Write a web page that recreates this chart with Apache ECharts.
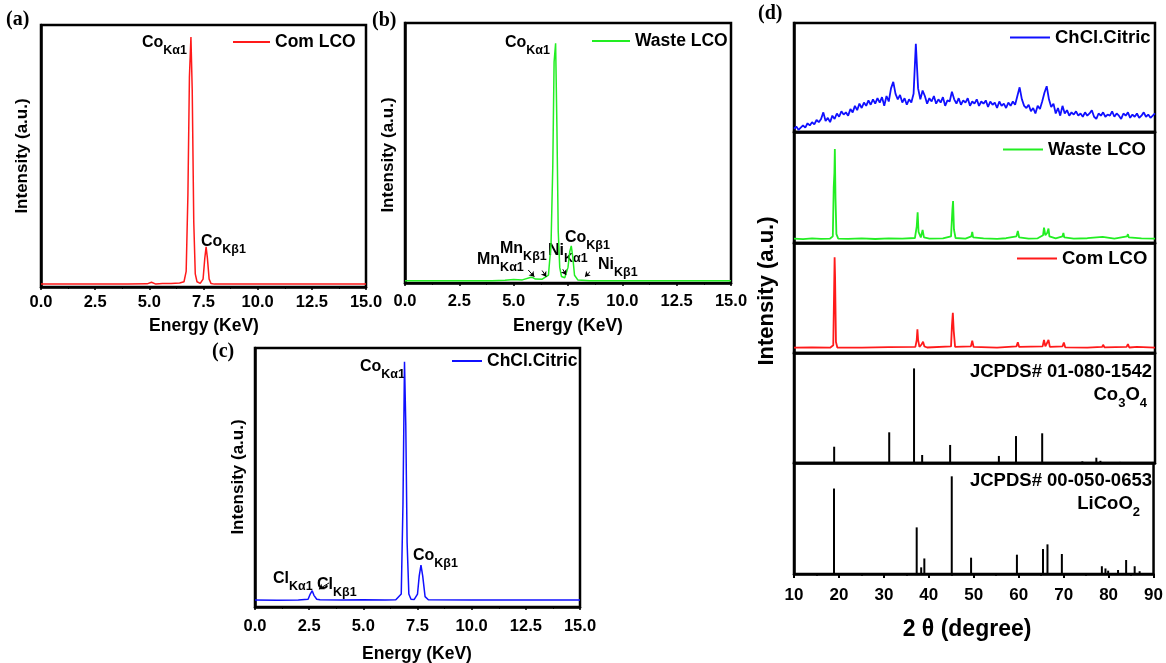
<!DOCTYPE html>
<html>
<head>
<meta charset="utf-8">
<script src="https://cdn.jsdelivr.net/npm/echarts@6/dist/echarts.min.js"></script>
<style>
html, body { margin: 0; padding: 0; background: #fff; }
#chart { width: 1166px; height: 663px; }
</style>
</head>
<body>
<div id="chart"></div>
<script>
// EDS spectra (energy keV, intensity a.u. scaled 0-100)
const edsComX = [0, 2, 4, 4.9, 5.1, 5.3, 5.6, 6.0, 6.4, 6.6, 6.7, 6.78, 6.85, 6.92, 6.98, 7.05, 7.12, 7.2, 7.35, 7.48, 7.56, 7.62, 7.68, 7.76, 7.85, 8.0, 10, 12, 15]
const edsComY = [1.1, 1.1, 1.1, 1.2, 1.8, 1.1, 1.3, 1.3, 1.5, 2.0, 6, 35, 80, 95.4, 75, 25, 5, 2, 1.4, 3, 11, 15.3, 11, 3, 1.3, 1.1, 1.1, 1.1, 1.1]

const edsWasteX = [0, 2, 4, 4.6, 5.0, 5.4, 5.8, 5.9, 6.0, 6.3, 6.6, 6.72, 6.8, 6.86, 6.93, 6.99, 7.05, 7.12, 7.2, 7.35, 7.5, 7.58, 7.65, 7.72, 7.8, 7.95, 8.5, 10, 12, 15]
const edsWasteY = [0.9, 0.9, 0.9, 1.1, 1.3, 1.2, 2.2, 2.0, 1.5, 1.4, 3, 15, 45, 85, 92.2, 60, 20, 6, 2.5, 2, 6, 12, 14.3, 10, 3, 1.2, 0.9, 0.9, 0.9, 0.9]

const edsChclX = [0, 1, 2, 2.45, 2.55, 2.64, 2.72, 2.85, 3.0, 4, 5, 6, 6.5, 6.75, 6.83, 6.9, 6.96, 7.02, 7.1, 7.2, 7.35, 7.5, 7.58, 7.66, 7.74, 7.85, 8.0, 10, 12, 15]
const edsChclY = [2.7, 2.6, 2.7, 3.0, 5, 6.3, 4.5, 3.0, 2.8, 2.7, 2.8, 2.7, 2.8, 5, 40, 94.7, 70, 25, 5, 3, 2.9, 5, 12, 16.2, 12, 4, 2.8, 2.7, 2.7, 2.7]

// XRD ChCl.Citric pattern, sampled every 0.5 deg from 10 to 90
const xrdChclStart = 10
const xrdChclStep = 0.5
const xrdChclY = [
  3, 5, 2, 4, 6, 4, 8, 6, 9, 7,
  11, 9, 12, 18, 10, 13, 9, 15, 12, 17,
  14, 19, 16, 18, 15, 21, 18, 24, 20, 26,
  22, 27, 24, 29, 25, 30, 26, 31, 27, 32,
  24, 33, 28, 40, 46, 35, 30, 34, 27, 31,
  25, 30, 27, 35, 81, 40, 30, 38, 33, 26,
  31, 28, 33, 26, 30, 27, 32, 24, 29, 28,
  37, 30, 26, 31, 25, 29, 27, 31, 24, 28,
  26, 30, 24, 28, 26, 29, 23, 28, 25, 27,
  22, 28, 24, 26, 22, 27, 24, 28, 25, 33,
  41, 30, 24, 22, 25, 19, 22, 17, 24, 21,
  28, 36, 42, 30, 23, 26, 17, 22, 15, 24,
  17, 20, 15, 18, 16, 19, 15, 17, 14, 18,
  15, 17, 20, 14, 12, 17, 15, 18, 14, 16,
  15, 19, 14, 17, 15, 12, 17, 15, 18, 13,
  16, 14, 17, 13, 15, 18, 14, 16, 13, 15,
  17
]

const xrdWaste = [[10,4],[12,3.5],[14,4.2],[16,3.8],[18,4],[18.6,6],[18.8,50],[18.95,63],[19.05,84.7],[19.2,40],[19.4,8],[19.8,4],[22,3.8],[25,4.2],[28,3.6],[31,4.1],[34,3.9],[36.8,4.5],[37.2,15],[37.4,27.6],[37.6,10],[38.1,5],[38.5,11.7],[38.8,5],[40,4],[43,4.2],[44.8,6],[45.1,30],[45.25,37.8],[45.45,12],[45.8,4.5],[48,4],[49.3,6],[49.5,10],[49.7,5],[52,4.1],[55,3.8],[57,4.3],[59.3,6],[59.6,10.8],[59.9,5],[62,4],[64,4.2],[65.2,7],[65.4,13.8],[65.7,7],[66.1,9],[66.4,13],[66.6,6],[68,4.2],[69.5,6],[69.7,9],[69.9,5],[72,4],[75,4.3],[78.4,5.5],[78.6,7.3],[78.8,5],[81,4],[83.8,6],[84,8],[84.2,5],[87,4.2],[90,4]]

const xrdCom = [[10,4.8],[14,5],[18,4.8],[18.7,7],[18.9,60],[19.0,87],[19.1,70],[19.3,10],[19.6,5],[25,4.8],[31,5.3],[31.2,4.9],[36.9,5.5],[37.2,12],[37.35,21.5],[37.5,12],[37.8,5.5],[38.3,8],[38.6,10.3],[38.9,6],[39.5,5],[44.8,6],[45.0,25],[45.2,36.6],[45.4,20],[45.7,5.5],[49.2,6],[49.5,11.2],[49.8,5.5],[55,4.8],[59.3,6],[59.6,9.7],[59.9,5.5],[65.1,6],[65.4,11.8],[65.7,6],[66.1,7],[66.4,11.8],[66.7,5.5],[69.5,6],[69.8,9.5],[70.1,5.2],[75,4.8],[78.3,5.5],[78.5,7.5],[78.8,5.2],[83.7,5.5],[84,8],[84.3,5],[86,5.5],[90,4.8]]

// reference stick patterns
const co3o4Pos = [18.9, 31.1, 36.6, 38.4, 44.6, 55.4, 59.2, 65.0, 73.9, 77.0, 77.9, 82.3]
const co3o4Int = [14.8, 27.9, 86, 7.3, 16.4, 6.4, 24.5, 27, 1.5, 4.8, 2, 1]
const licoo2Pos = [18.9, 37.3, 38.3, 39.0, 45.1, 49.4, 59.6, 65.4, 66.4, 69.6, 78.5, 79.3, 79.9, 82.1, 83.9, 85.8, 86.9]
const licoo2Int = [77, 42, 6, 14, 88, 14.7, 17.4, 22.5, 26.7, 18, 7, 5, 3, 3.6, 12.6, 7, 2.5]

const RED = '#ff1a1a'
const GREEN = '#22ee22'
const BLUE = '#1010ff'
const FONT = 'Liberation Sans, Arial, sans-serif'

const zip = (xs, ys) => xs.map((x, i) => [x, ys[i]])

const chart = echarts.init(document.getElementById('chart'), null, { renderer: 'canvas' })

const grids = [
  { left: 41, top: 25, width: 325, height: 262 },
  { left: 405, top: 23, width: 326, height: 260 },
  { left: 255, top: 348, width: 325, height: 259 },
  { left: 794, top: 23, width: 361, height: 109 },
  { left: 794, top: 132, width: 361, height: 111 },
  { left: 794, top: 243, width: 361, height: 110 },
  { left: 794, top: 353, width: 361, height: 110 },
  { left: 794, top: 463, width: 361, height: 111 }
].map(g => Object.assign({ show: true, borderColor: '#000', borderWidth: 2.5, backgroundColor: 'transparent' }, g))

function energyAxis(i, margin) {
  return {
    type: 'value', gridIndex: i, min: 0, max: 15, interval: 2.5,
    axisLine: { onZero: false, lineStyle: { color: '#000', width: 2.5 } },
    axisTick: { length: 3, lineStyle: { color: '#000', width: 1.5 } },
    minorTick: { show: true, splitNumber: 2, length: 2, lineStyle: { color: '#000' } },
    splitLine: { show: false },
    axisLabel: { color: '#000', fontSize: 16.5, fontWeight: 'bold', fontFamily: FONT, margin: margin,
      formatter: v => v.toFixed(1) }
  }
}
function thetaAxis(i, bottom) {
  return {
    type: 'value', gridIndex: i, min: 10, max: 90, interval: 10,
    axisLine: { onZero: false, lineStyle: { color: '#000', width: 2.5 } },
    axisTick: { show: bottom, length: 4, lineStyle: { color: '#000', width: 2 } },
    minorTick: { show: bottom, splitNumber: 2, length: 2, lineStyle: { color: '#000', width: 1.5 } },
    splitLine: { show: false },
    axisLabel: { show: bottom, color: '#000', fontSize: 17, fontWeight: 'bold', fontFamily: FONT, margin: 13 }
  }
}
function intensityAxis(i) {
  return {
    type: 'value', gridIndex: i, min: 0, max: 100,
    axisLine: { show: true, onZero: false, lineStyle: { color: '#000', width: 2.5 } },
    axisTick: { show: false }, axisLabel: { show: false }, splitLine: { show: false }
  }
}

const xAxes = [energyAxis(0, 7), energyAxis(1, 10), energyAxis(2, 11),
  thetaAxis(3, false), thetaAxis(4, false), thetaAxis(5, false), thetaAxis(6, false), thetaAxis(7, true)]
const yAxes = grids.map((g, i) => intensityAxis(i))

function lineSeries(name, idx, data, color, width) {
  return {
    name: name, type: 'line', xAxisIndex: idx, yAxisIndex: idx, data: data,
    showSymbol: false, symbol: 'none', smooth: false, clip: true,
    lineStyle: { color: color, width: width }, itemStyle: { color: color }, animation: false
  }
}
function arrows(list) {
  return {
    silent: true, animation: false, symbol: ['none', 'arrow'], symbolSize: 5,
    lineStyle: { color: '#000', width: 1, type: 'solid' }, label: { show: false },
    data: list.map(a => [{ coord: a[0] }, { coord: a[1] }])
  }
}
function sticks(name, idx, pos, ints) {
  return {
    name: name, type: 'bar', xAxisIndex: idx, yAxisIndex: idx, data: zip(pos, ints),
    barWidth: 2, itemStyle: { color: '#000' }, animation: false
  }
}

const sWaste = lineSeries('Waste LCO', 1, zip(edsWasteX, edsWasteY), GREEN, 1.5)
sWaste.markLine = arrows([
  [[5.67, 5.0], [5.95, 2.4]], [[6.31, 4.8], [6.5, 2.4]],
  [[7.26, 5.3], [7.41, 3.1]], [[8.51, 4.3], [8.28, 2.4]]
])
const sChcl = lineSeries('ChCl.Citric', 2, zip(edsChclX, edsChclY), BLUE, 1.5)
sChcl.markLine = arrows([[[3.42, 9.3], [2.95, 6.9]]])

const series = [
  lineSeries('Com LCO', 0, zip(edsComX, edsComY), RED, 1.5),
  sWaste,
  sChcl,
  lineSeries('ChCl.Citric', 3, xrdChclY.map((v, i) => [xrdChclStart + i * xrdChclStep, v]), BLUE, 1.8),
  lineSeries('Waste LCO', 4, xrdWaste, GREEN, 1.8),
  lineSeries('Com LCO', 5, xrdCom, RED, 1.8),
  sticks('Co3O4', 6, co3o4Pos, co3o4Int),
  sticks('LiCoO2', 7, licoo2Pos, licoo2Int)
]

function legend(name, left, top, w, size) {
  return {
    data: [name], left: left, top: top, padding: 0, selectedMode: false,
    icon: 'rect', itemWidth: w, itemHeight: 2, itemGap: 5,
    textStyle: { color: '#000', fontSize: size, fontWeight: 'bold', fontFamily: FONT }
  }
}

function richSet(m, s, lh) {
  return {
    m: { fontSize: m, fontWeight: 'bold', fontFamily: FONT, color: '#000', lineHeight: lh },
    s: { fontSize: s, fontWeight: 'bold', fontFamily: FONT, color: '#000', lineHeight: s, verticalAlign: 'bottom' }
  }
}
const richNote = richSet(16, 12.5, 28)
const richFormula = richSet(18.5, 13, 30)

function note(x, y, main, sub) {
  return { type: 'text', x: x, y: y, silent: true,
    style: { text: '{m|' + main + '}{s|' + sub + '}', rich: richNote, align: 'left', verticalAlign: 'middle' } }
}
function label(x, y, text, size, align, rot) {
  return { type: 'text', x: x, y: y, rotation: rot || 0, silent: true,
    style: { text: text, fontSize: size, fontWeight: 'bold', fontFamily: FONT, fill: '#000', align: align || 'center', verticalAlign: 'middle' } }
}
function panel(x, y, text) {
  return { type: 'text', x: x, y: y, silent: true,
    style: { text: text, fontSize: 20, fontWeight: 'bold', fontFamily: 'Liberation Serif, Times New Roman, serif', fill: '#000', align: 'left', verticalAlign: 'middle' } }
}

const graphics = [
  panel(6, 20, '(a)'), panel(372, 21, '(b)'), panel(212, 352, '(c)'), panel(758, 14, '(d)'),
  label(204, 326, 'Energy (KeV)', 17.5), label(568, 326, 'Energy (KeV)', 17.5), label(417, 654, 'Energy (KeV)', 17.5),
  label(22, 156, 'Intensity (a.u.)', 17, 'center', Math.PI / 2),
  label(388, 155, 'Intensity (a.u.)', 17, 'center', Math.PI / 2),
  label(238, 477, 'Intensity (a.u.)', 17, 'center', Math.PI / 2),
  label(767, 291, 'Intensity (a.u.)', 22, 'center', Math.PI / 2),
  label(967, 630, '2 \u03b8 (degree)', 23),
  note(142, 43, 'Co', 'K\u03b11'), note(201, 242, 'Co', 'K\u03b21'),
  note(505, 43, 'Co', 'K\u03b11'), note(565, 238, 'Co', 'K\u03b21'),
  note(500, 249, 'Mn', 'K\u03b21'), note(548, 251, 'Ni', 'K\u03b11'),
  note(477, 260, 'Mn', 'K\u03b11'), note(598, 265, 'Ni', 'K\u03b21'),
  note(360, 367, 'Co', 'K\u03b11'), note(413, 556, 'Co', 'K\u03b21'),
  note(273, 579, 'Cl', 'K\u03b11'), note(317, 585, 'Cl', 'K\u03b21'),
  label(1152, 372, 'JCPDS# 01-080-1542', 18.5, 'right'),
  { type: 'text', x: 1147, y: 395, silent: true, style: { text: '{m|Co}{s|3}{m|O}{s|4}', rich: richFormula, align: 'right', verticalAlign: 'middle' } },
  label(1152, 481, 'JCPDS# 00-050-0653', 18.5, 'right'),
  { type: 'text', x: 1140, y: 504, silent: true, style: { text: '{m|LiCoO}{s|2}', rich: richFormula, align: 'right', verticalAlign: 'middle' } }
]

chart.setOption({
  animation: false,
  backgroundColor: '#fff',
  grid: grids,
  xAxis: xAxes,
  yAxis: yAxes,
  legend: [
    legend('Com LCO', 233, 33, 37, 17.5),
    legend('Waste LCO', 592, 32, 38, 17.5),
    legend('ChCl.Citric', 452, 352, 30, 17.5),
    legend('ChCl.Citric', 1010, 28, 40, 18.5),
    legend('Waste LCO', 1003, 140, 40, 18.5),
    legend('Com LCO', 1017, 249, 40, 18.5)
  ],
  series: series,
  graphic: graphics
})
</script>
</body>
</html>
